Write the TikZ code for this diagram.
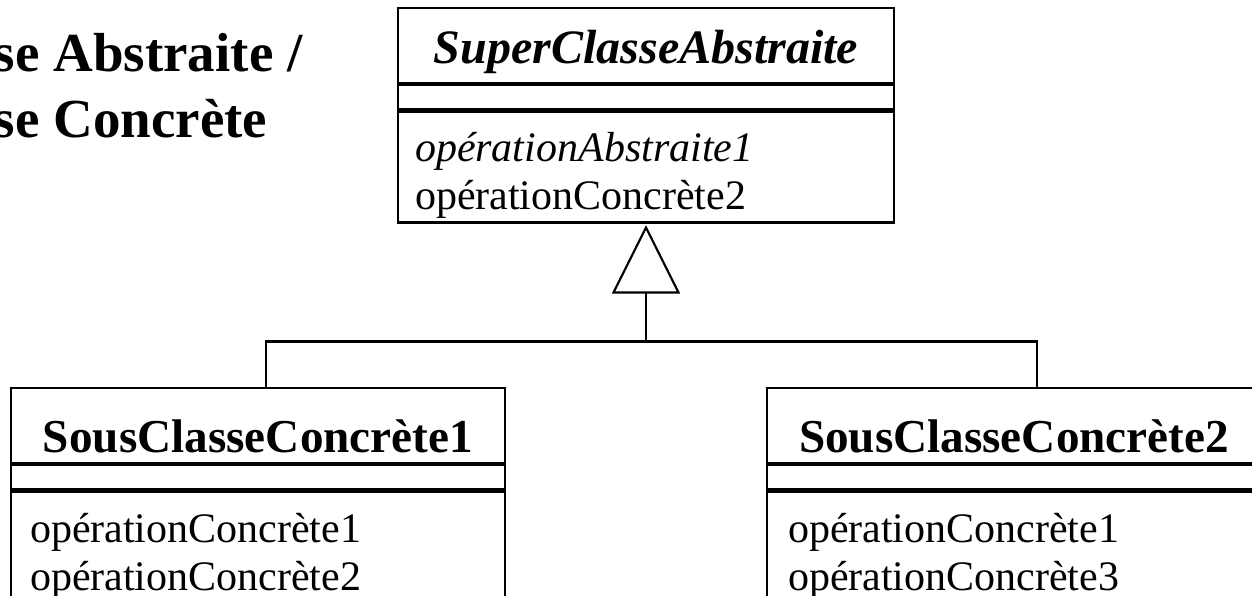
\documentclass[tikz,border=0pt]{standalone}
\usepackage{fontspec}
\setmainfont{Liberation Serif}
\usetikzlibrary{positioning}

\tikzset{
  uml/.style={draw,line width=1.1pt,inner sep=0pt},
  classhead/.style={uml,minimum width=247pt,minimum height=37.5pt,
    font=\fontsize{23.6pt}{28pt}\selectfont\bfseries,text height=32pt,text depth=5.5pt},
  classattr/.style={uml,minimum width=247pt,minimum height=12pt},
  classops/.style={uml,minimum width=247pt,minimum height=76.5pt},
  optext/.style={inner sep=0pt,anchor=base west,font=\fontsize{21pt}{24pt}\selectfont},
  titletext/.style={inner sep=0pt,anchor=base west,font=\fontsize{27.5pt}{33pt}\selectfont\bfseries},
}

\begin{document}
\begin{tikzpicture}[x=0.5pt,y=-0.5pt,line width=1.1pt]
  \useasboundingbox (0,0) rectangle (1252,595);
  \clip (0,0) rectangle (1252,595);
  % title
  \node[titletext] (title1) at (-111,71) {Classe Abstraite /};
  \node[titletext] (title2) at (-111,137) {Classe Concrète};
  % abstract super class
  \node[classhead,minimum width=248pt,text height=27.5pt,text depth=10pt]
    (superhead) at (646,45.5) {\fontsize{24pt}{28pt}\selectfont\itshape SuperClasseAbstraite};
  \node[classattr,minimum width=248pt,below=0pt of superhead] (superattr) {};
  \node[classops,minimum width=248pt,minimum height=55.5pt,below=0pt of superattr] (superops) {};
  \node[optext] (superop1) at ([xshift=8.5pt,yshift=-25.5pt]superops.north west) {\itshape opérationAbstraite1};
  \node[optext] (superop2) at ([yshift=-24pt]superop1.base west) {opérationConcrète2};
  % concrete sub classes
  \node[classhead] (subAhead) at (258,425.5) {SousClasseConcrète1};
  \node[classattr,below=0pt of subAhead] (subAattr) {};
  \node[classops,below=0pt of subAattr] (subAops) {};
  \node[optext] (subAop1) at ([xshift=9.5pt,yshift=-26pt]subAops.north west) {opérationConcrète1};
  \node[optext] (subAop2) at ([yshift=-24pt]subAop1.base west) {opérationConcrète2};
  \node[classhead] (subBhead) at (1014,425.5) {SousClasseConcrète2};
  \node[classattr,below=0pt of subBhead] (subBattr) {};
  \node[classops,below=0pt of subBattr] (subBops) {};
  \node[optext] (subBop1) at ([xshift=10.5pt,yshift=-26pt]subBops.north west) {opérationConcrète1};
  \node[optext] (subBop2) at ([yshift=-24pt]subBop1.base west) {opérationConcrète3};
  % generalisation
  \coordinate (tip) at ([yshift=-2pt]superops.south);
  \coordinate (base) at ([yshift=-32.5pt]tip);
  \coordinate (fork) at ([yshift=-24.5pt]base);
  \draw (tip) -- ([xshift=-16.25pt]base) -- ([xshift=16.25pt]base) -- cycle;
  \draw (base) -- (fork);
  \draw (fork) -| ([xshift=4pt]subAhead.north);
  \draw (fork) -| ([xshift=11.5pt]subBhead.north);
\end{tikzpicture}
\end{document}
